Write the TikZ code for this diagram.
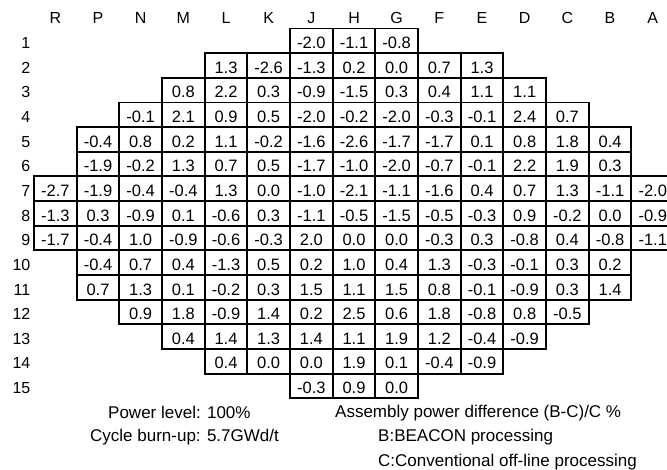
\documentclass[tikz,border=0pt]{standalone}
\usepackage{fontspec}
\setmainfont{Liberation Sans}
\begin{document}
\begin{tikzpicture}[x=1pt,y=-1pt,
  cellbox/.style={draw, line width=1.9pt, minimum width=42.67pt, minimum height=24.65pt,
    inner sep=0pt, text height=15.4pt, text depth=0pt, font=\fontsize{16.5}{18}\selectfont},
  hdr/.style={inner sep=0pt, anchor=base, font=\fontsize{16}{18}\selectfont},
  rowlab/.style={inner sep=0pt, anchor=east, text height=15.4pt, text depth=0pt, font=\fontsize{16}{18}\selectfont},
  legend/.style={inner sep=0pt, anchor=base west, font=\fontsize{17}{20}\selectfont}]
\useasboundingbox (0,0) rectangle (667,469);
% column headers
\foreach \l [count=\i from 0] in {R,P,N,M,L,K,J,H,G,F,E,D,C,B,A}
  \node[hdr] (h-\l) at ({34+(\i+0.5)*42.67},23.5) {\l};
% row labels
\foreach \r in {1,...,15}
  \node[rowlab] (r-\r) at (30.5,{28.5+(\r-0.5)*24.65}) {\r};
% cells
\foreach \r/\s/\vals in {
  1/6/{-2.0,-1.1,-0.8},
  2/4/{1.3,-2.6,-1.3,0.2,0.0,0.7,1.3},
  3/3/{0.8,2.2,0.3,-0.9,-1.5,0.3,0.4,1.1,1.1},
  4/2/{-0.1,2.1,0.9,0.5,-2.0,-0.2,-2.0,-0.3,-0.1,2.4,0.7},
  5/1/{-0.4,0.8,0.2,1.1,-0.2,-1.6,-2.6,-1.7,-1.7,0.1,0.8,1.8,0.4},
  6/1/{-1.9,-0.2,1.3,0.7,0.5,-1.7,-1.0,-2.0,-0.7,-0.1,2.2,1.9,0.3},
  7/0/{-2.7,-1.9,-0.4,-0.4,1.3,0.0,-1.0,-2.1,-1.1,-1.6,0.4,0.7,1.3,-1.1,-2.0},
  8/0/{-1.3,0.3,-0.9,0.1,-0.6,0.3,-1.1,-0.5,-1.5,-0.5,-0.3,0.9,-0.2,0.0,-0.9},
  9/0/{-1.7,-0.4,1.0,-0.9,-0.6,-0.3,2.0,0.0,0.0,-0.3,0.3,-0.8,0.4,-0.8,-1.1},
  10/1/{-0.4,0.7,0.4,-1.3,0.5,0.2,1.0,0.4,1.3,-0.3,-0.1,0.3,0.2},
  11/1/{0.7,1.3,0.1,-0.2,0.3,1.5,1.1,1.5,0.8,-0.1,-0.9,0.3,1.4},
  12/2/{0.9,1.8,-0.9,1.4,0.2,2.5,0.6,1.8,-0.8,0.8,-0.5},
  13/3/{0.4,1.4,1.3,1.4,1.1,1.9,1.2,-0.4,-0.9},
  14/4/{0.4,0.0,0.0,1.9,0.1,-0.4,-0.9},
  15/6/{-0.3,0.9,0.0}}
{
  \foreach \v [count=\i from 0] in \vals {
    \pgfmathtruncatemacro\cc{\s+\i}
    \node[cellbox] (c-\r-\cc) at ({34+(\cc+0.5)*42.67},{28.5+(\r-0.5)*24.65}) {\v};
  }
}
% legend
\node[legend] (pl) at (108,418.5) {Power level: 100\%};
\node[legend] (cb) at (90,441.7) {Cycle burn-up: 5.7GWd/t};
\node[legend] (apd) at (335,417.7) {Assembly power difference (B-C)/C \%};
\node[legend] (bb) at (378,441.7) {B:BEACON processing};
\node[legend] (cc) at (378,466) {C:Conventional off-line processing};
\end{tikzpicture}
\end{document}
